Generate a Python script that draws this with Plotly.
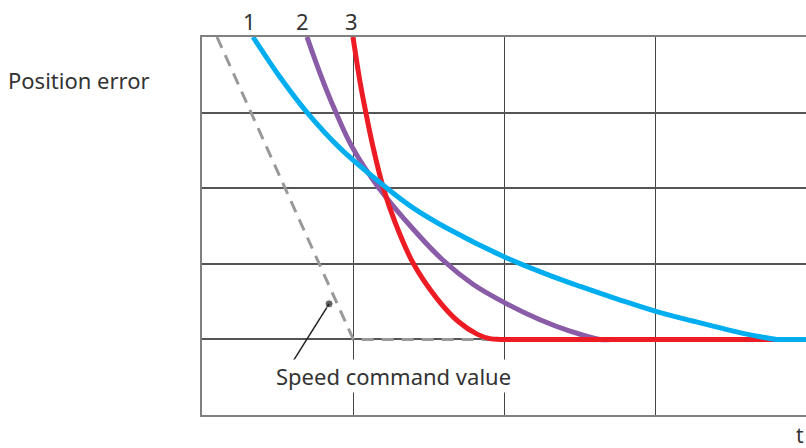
import plotly.graph_objects as go

# curve 1 (blue)
x1 = [0.337, 0.515, 0.687, 0.912, 1.21, 1.395, 1.62, 2.0, 2.28, 2.5, 2.75, 3.0, 3.25, 3.47, 3.65, 3.8, 3.9, 4.0]
y1 = [5.0, 4.47, 4.02, 3.53, 3.02, 2.74, 2.47, 2.09, 1.86, 1.70, 1.53, 1.37, 1.24, 1.13, 1.05, 1.0, 1.0, 1.0]

# curve 2 (purple)
x2 = [0.694, 0.78, 0.879, 0.991, 1.163, 1.395, 1.586, 1.791, 1.996, 2.234, 2.432, 2.63, 2.75, 3.0, 4.0]
y2 = [5.0, 4.52, 4.03, 3.55, 3.02, 2.46, 2.06, 1.73, 1.49, 1.26, 1.11, 1.0, 1.0, 1.0, 1.0]

# curve 3 (red)
x3 = [0.998, 1.044, 1.084, 1.13, 1.196, 1.276, 1.395, 1.553, 1.692, 1.818, 1.903, 1.97, 2.1, 2.4, 4.0]
y3 = [5.0, 4.41, 3.99, 3.55, 3.02, 2.55, 2.01, 1.54, 1.24, 1.07, 1.01, 1.0, 1.0, 1.0, 1.0]

# speed command value (dashed)
xs = [0.099, 1.0, 4.0]
ys = [5.0, 1.0, 1.0]

curve_labels = ["1", "2", "3"]
label_x = [0.317, 0.661, 0.991]

FONT = "Noto Sans"
TXT = "#333333"

fig = go.Figure()

fig.add_trace(go.Scatter(x=xs, y=ys, mode="lines",
                         line=dict(color="#999999", width=3, dash="12px,8px")))
for xx, yy, col in [(x2, y2, "#8a5ca8"), (x3, y3, "#ed1c24"), (x1, y1, "#00aeef")]:
    fig.add_trace(go.Scatter(x=xx, y=yy, mode="lines",
                             line=dict(color=col, width=5, shape="spline", smoothing=1)))

# pointer for the dashed line
fig.add_trace(go.Scatter(x=[0.84, 0.595], y=[1.47, 0.69], mode="lines+markers",
                         line=dict(color="#222222", width=1.5),
                         marker=dict(size=[8, 0], color="#222222")))

# the y=1 line is drawn darker than the rest of the grid
fig.add_shape(type="line", xref="paper", x0=0, x1=1, y0=1, y1=1,
              line=dict(color="#111111", width=1), layer="below")

for lab, lx in zip(curve_labels, label_x):
    fig.add_annotation(x=lx, yref="paper", y=1.042, yanchor="middle", text=lab,
                       showarrow=False, font=dict(family=FONT, size=22, color=TXT))

fig.add_annotation(x=1.265, y=0.51, text="Speed command value", showarrow=False,
                   bgcolor="white", font=dict(family=FONT, size=22, color=TXT))
fig.add_annotation(xref="paper", x=-0.3245, xanchor="left", y=4.43, yanchor="middle",
                   text="Position error", showarrow=False,
                   font=dict(family=FONT, size=22, color=TXT))
fig.add_annotation(xref="paper", x=1.0, xanchor="right", yref="paper", y=-0.054,
                   yanchor="middle", text="t", showarrow=False,
                   font=dict(family=FONT, size=21, color=TXT))

fig.update_layout(
    width=806, height=448,
    margin=dict(l=202, r=0, t=37, b=33),
    paper_bgcolor="white", plot_bgcolor="white",
    showlegend=False,
    xaxis=dict(range=[0, 3.992], dtick=1, showgrid=True, gridcolor="#444444", gridwidth=1.2,
               showticklabels=False, zeroline=False, showline=True, mirror=True,
               linecolor="#808080", linewidth=2, ticks=""),
    yaxis=dict(range=[0, 5], dtick=1, showgrid=True, gridcolor="#555555", gridwidth=1.5,
               showticklabels=False, zeroline=False, showline=True, mirror=False,
               linecolor="#808080", linewidth=2, ticks=""),
)

# drop the default 8px page margin so the figure fills the window
fig.write_html("out.html", config={"displayModeBar": False},
               post_script="document.body.style.margin = '0';")
